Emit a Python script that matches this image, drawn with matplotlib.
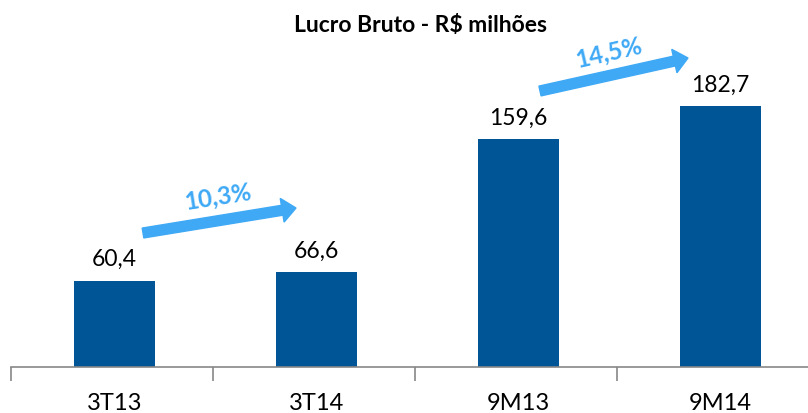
import matplotlib.pyplot as plt
from matplotlib.patches import FancyArrow

plt.rcParams['font.family'] = ['Lato', 'DejaVu Sans']

categories = ['3T13', '3T14', '9M13', '9M14']
values = [60.4, 66.6, 159.6, 182.7]
labels = ['60,4', '66,6', '159,6', '182,7']
growth = ['10,3%', '14,5%']

W, H = 808, 414
fig = plt.figure(figsize=(W / 100, H / 100), dpi=100)
# axes in pixel terms: x axis from 11 to 819, baseline at y=368
ax = fig.add_axes([11 / W, (H - 368) / H, 808 / W, 285.6 / H])
x = [i + 0.012 for i in range(len(categories))]
ax.bar(x, values, width=0.4, color='#005596')
ax.set_xlim(-0.5, 3.5)
ax.set_ylim(0, 200)
for i, v in enumerate(values):
    ax.text(x[i], v + 8, labels[i], ha='center', va='bottom', fontsize=16.5)

for s in ['top', 'right', 'left']:
    ax.spines[s].set_visible(False)
ax.spines['bottom'].set_color('#878787')
ax.spines['bottom'].set_linewidth(1.2)
ax.set_yticks([])
ax.set_xticks([-0.5, 0.5, 1.5, 2.5, 3.5])
ax.set_xticklabels([])
ax.tick_params(axis='x', length=10, width=1.2, color='#878787')
for i, c in enumerate(categories):
    ax.text(x[i], -17.5, c, ha='center', va='top', fontsize=17)

fig.text(420 / W, 1 - 25 / H, 'Lucro Bruto - R$ milhões', ha='center', va='center',
         fontsize=16.5, fontweight='bold')

# growth arrows (pixel coords)
def arrow(x0, y0, x1, y1):
    a = FancyArrow(x0, H - y0, x1 - x0, -(y1 - y0), width=10, head_width=24,
                   head_length=14, length_includes_head=True, color='#3fa9f5',
                   transform=None, figure=fig)
    fig.patches.append(a)

arrow(143, 234, 296, 209)
arrow(540, 92, 688, 59)
fig.text(218 / W, 1 - 197 / H, growth[0], ha='center', va='center', rotation=9,
         fontsize=17.5, fontweight='bold', color='#3fa9f5')
fig.text(609 / W, 1 - 53 / H, growth[1], ha='center', va='center', rotation=13,
         fontsize=17.5, fontweight='bold', color='#3fa9f5')

fig.savefig('out.png', dpi=100)
